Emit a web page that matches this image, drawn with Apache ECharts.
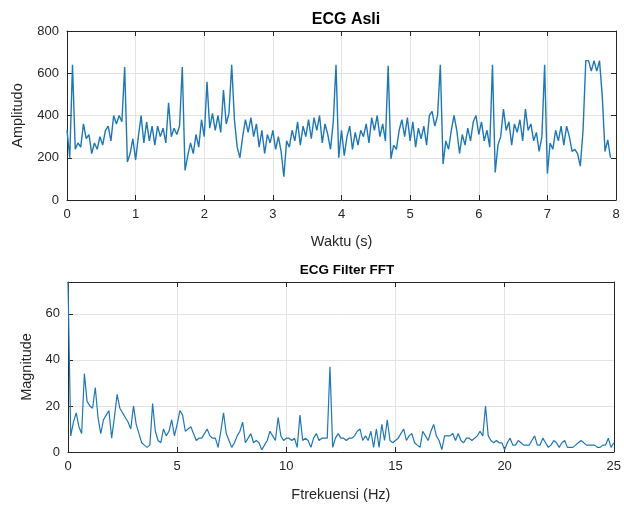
<!DOCTYPE html>
<html>
<head>
<meta charset="utf-8">
<script src="https://cdn.jsdelivr.net/npm/echarts@6/dist/echarts.min.js"></script>
<style>
  html, body { margin: 0; padding: 0; background: #ffffff; }
  #chart { width: 624px; height: 506px; }
</style>
</head>
<body>
<div id="chart"></div>
<script>
// Raw ECG trace, one sample every 0.04 s
const ecgStep = 0.04;
const ecgValues = [
  330, 200, 640, 240, 270, 250, 360, 290, 310, 220, 270, 240, 300, 260, 330, 350, 280, 400, 360, 400, 370, 630, 180, 220, 290,
  190, 300, 400, 270, 370, 280, 350, 260, 350, 300, 340, 270, 460, 300, 340, 310, 350, 630, 140, 210, 270, 220, 310, 250, 380,
  300, 560, 340, 410, 330, 400, 320, 520, 360, 410, 640, 380, 250, 200, 300, 380, 320, 390, 300, 360, 250, 330, 220, 310, 270,
  330, 240, 300, 230, 110, 280, 250, 330, 280, 370, 260, 350, 300, 380, 290, 390, 330, 400, 270, 360, 310, 240, 370, 640, 200,
  330, 210, 300, 350, 240, 320, 260, 330, 300, 360, 270, 390, 330, 400, 300, 360, 280, 635, 195, 260, 240, 330, 380, 300, 390,
  280, 370, 250, 340, 290, 350, 260, 400, 420, 350, 400, 640, 170, 280, 240, 330, 400, 330, 220, 310, 260, 340, 280, 370, 400,
  310, 370, 280, 330, 250, 640, 130, 260, 300, 430, 330, 370, 260, 360, 320, 380, 280, 430, 330, 360, 280, 320, 230, 300, 640,
  125, 270, 240, 330, 280, 350, 260, 350, 300, 230, 240, 220, 160, 330, 660, 660, 610, 660, 610, 660, 490, 230, 285, 200
];

// FFT magnitude, one bin every 0.125 Hz from 0 to 25 Hz
const fftStep = 0.125;
const fftValues = [
  73.8, 7, 13, 17, 11, 8, 34, 22, 20, 19, 28, 15, 8, 14, 16, 18, 6, 15, 25, 19, 17, 15, 13, 10, 20,
  12, 8, 4, 3, 2, 3, 21, 9, 5, 4, 10, 7, 9, 14, 7, 12, 18, 16, 9, 10, 11, 8, 5, 6, 6,
  8, 10, 7, 6, 6, 2, 9, 17, 8, 5, 2, 4, 7, 9, 13, 4, 6, 8, 4, 5, 4, 1, 3, 5, 9,
  7, 5, 15, 7, 5, 6, 6, 5, 6, 2, 16, 5, 6, 5, 2, 6, 8, 5, 6, 6, 6, 37, 2, 6, 8,
  6, 6, 5, 6, 6, 7, 9, 10, 5, 7, 5, 9, 2, 10, 2, 12, 5, 14, 5, 4, 5, 6, 8, 10, 5,
  7, 8, 4, 3, 2, 9, 7, 5, 9, 12, 7, 5, 1, 7, 7, 7, 8, 5, 8, 5, 4, 6, 6, 5, 6,
  7, 9, 7, 20, 7, 5, 4, 5, 4, 4, 1, 4, 6, 3, 3, 5, 4, 3, 3, 3, 5, 7, 3, 3, 6,
  4, 2, 3, 5, 4, 2, 4, 5, 2, 2, 2, 3, 4, 5, 4, 3, 3, 3, 3, 2, 2, 3, 3, 6, 2,
  4
];

// Axis ranges and tick spacing
const timeTicks = { min: 0, max: 8, interval: 1 };
const ampTicks = { min: 0, max: 800, interval: 200 };
const freqTicks = { min: 0, max: 25, interval: 5 };
const magTicks = { min: 0, interval: 20 };

const ecgData = ecgValues.map((v, i) => [+(i * ecgStep).toFixed(3), v]);
const fftData = fftValues.map((v, i) => [+(i * fftStep).toFixed(3), v]);

const ink = '#262626';
const gridColor = '#e3e3e3';
const lineBlue = '#1f77b4';
const fontFamily = 'Liberation Sans, Arial, Helvetica, sans-serif';

const frameLine = { show: true, onZero: false, lineStyle: { color: ink, width: 1 } };
const innerTick = { show: true, inside: true, length: 5, lineStyle: { color: ink } };

function mainX(gridIndex, range, name, gap) {
  return {
    type: 'value', gridIndex, position: 'bottom',
    min: range.min, max: range.max, interval: range.interval,
    name, nameLocation: 'middle', nameGap: gap,
    nameTextStyle: { color: ink, fontSize: 14.5, fontFamily },
    axisLine: frameLine,
    axisTick: innerTick,
    axisLabel: { color: ink, fontSize: 13, fontFamily, margin: 8 },
    splitLine: { show: true, lineStyle: { color: gridColor, width: 1 } }
  };
}
function mirrorX(gridIndex, range) {
  return {
    type: 'value', gridIndex, position: 'top',
    min: range.min, max: range.max, interval: range.interval,
    axisLine: frameLine,
    axisTick: innerTick,
    axisLabel: { show: false },
    splitLine: { show: false }
  };
}
function mainY(gridIndex, range, name, gap) {
  return {
    type: 'value', gridIndex, position: 'left',
    min: range.min, max: range.max !== undefined ? range.max : 'dataMax', interval: range.interval,
    name, nameLocation: 'middle', nameGap: gap, nameRotate: 90,
    nameTextStyle: { color: ink, fontSize: 14.5, fontFamily },
    axisLine: frameLine,
    axisTick: innerTick,
    axisLabel: {
      color: ink, fontSize: 13, fontFamily, margin: 8,
      formatter: v => (v % range.interval === 0 ? String(v) : '')
    },
    splitLine: { show: true, lineStyle: { color: gridColor, width: 1 } }
  };
}
function mirrorY(gridIndex, range) {
  return {
    type: 'value', gridIndex, position: 'right',
    min: range.min, max: range.max !== undefined ? range.max : 'dataMax', interval: range.interval,
    axisLine: frameLine,
    axisTick: innerTick,
    axisLabel: { show: false },
    splitLine: { show: false }
  };
}

const chart = echarts.init(document.getElementById('chart'), null, { renderer: 'canvas' });
chart.setOption({
  backgroundColor: '#ffffff',
  animation: false,
  title: [
    { text: 'ECG Asli', left: 341, top: 7, textAlign: 'center',
      textStyle: { color: '#000', fontSize: 16, fontWeight: 'bold', fontFamily } },
    { text: 'ECG Filter FFT', left: 342, top: 258, textAlign: 'center',
      textStyle: { color: '#000', fontSize: 13.5, fontWeight: 'bold', fontFamily } }
  ],
  grid: [
    { left: 67, right: 8, top: 31, height: 169 },
    { left: 68, right: 8, top: 282, height: 170 }
  ],
  xAxis: [
    mainX(0, timeTicks, 'Waktu (s)', 34),
    mirrorX(0, timeTicks),
    mainX(1, freqTicks, 'Ftrekuensi (Hz)', 35),
    mirrorX(1, freqTicks)
  ],
  yAxis: [
    mainY(0, ampTicks, 'Amplitudo', 42),
    mirrorY(0, ampTicks),
    mainY(1, magTicks, 'Magnitude', 31),
    mirrorY(1, magTicks)
  ],
  series: [
    { type: 'line', xAxisIndex: 0, yAxisIndex: 0, data: ecgData, showSymbol: false,
      lineStyle: { color: lineBlue, width: 1.4 }, clip: true },
    { type: 'line', xAxisIndex: 2, yAxisIndex: 2, data: fftData, showSymbol: false,
      lineStyle: { color: lineBlue, width: 1.2 }, clip: true }
  ]
});
</script>
</body>
</html>
